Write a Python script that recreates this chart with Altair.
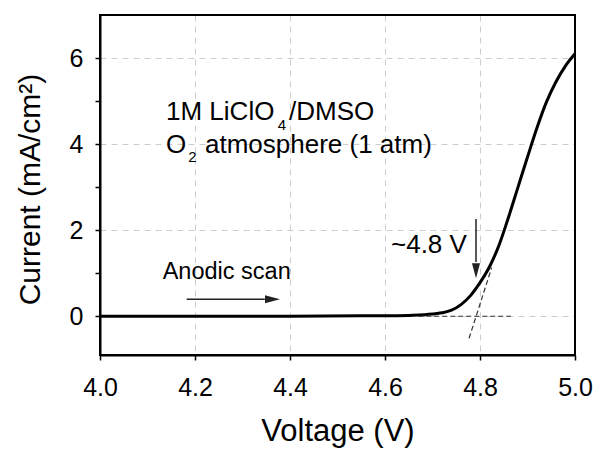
import altair as alt
import pandas as pd

# ---- data ----
voltage = [4.0, 4.2, 4.4, 4.55, 4.6, 4.65, 4.70, 4.72, 4.74, 4.76, 4.78, 4.80,
           4.82, 4.84, 4.86, 4.88, 4.90, 4.92, 4.94, 4.96, 4.98, 5.0]
current = [0.0, 0.0, 0.0, 0.01, 0.01, 0.02, 0.05, 0.08, 0.14, 0.27, 0.48, 0.78,
           1.15, 1.65, 2.3, 3.0, 3.7, 4.38, 4.98, 5.45, 5.82, 6.1]

x_ticks = [4.0, 4.2, 4.4, 4.6, 4.8, 5.0]
y_ticks = [0, 1, 2, 3, 4, 5, 6]
x_domain = [4.0, 5.0]
y_domain = [-0.9, 7.0]

# annotation pieces (subscripts as separate smaller pieces)
note_text = ["1M LiClO", "4", "/DMSO", "O", "2", "atmosphere (1 atm)", "~4.8 V", "Anodic scan"]
note_x = [4.139, 4.374, 4.398, 4.139, 4.186, 4.221, 4.6126, 4.132]
note_y = [4.56, 4.32, 4.56, 3.79, 3.59, 3.79, 1.47, 0.859]
note_size = [26, 15, 26, 26, 15, 26, 26, 23.5]

# arrows: start, head base, tip
arrow_x0 = [4.1825, 4.7916]
arrow_y0 = [0.394, 2.26]
arrow_xb = [4.347, 4.7916]
arrow_yb = [0.394, 1.26]
arrow_x1 = [4.379, 4.7916]
arrow_y1 = [0.394, 0.883]
arrow_angle = [0, 90]

# dashed onset construction lines
guide_x0 = [4.67, 4.777]
guide_y0 = [0.0, -0.51]
guide_x1 = [4.865, 4.8246]
guide_y1 = [0.0, 1.13]

FONT = "Liberation Sans"

curve_df = pd.DataFrame({"v": voltage, "i": current})
note_df = pd.DataFrame({"x": note_x, "y": note_y, "t": note_text, "s": note_size})
arrow_df = pd.DataFrame({"x0": arrow_x0, "y0": arrow_y0, "xb": arrow_xb, "yb": arrow_yb,
                         "x1": arrow_x1, "y1": arrow_y1, "a": arrow_angle})
guide_df = pd.DataFrame({"x0": guide_x0, "y0": guide_y0, "x1": guide_x1, "y1": guide_y1})
# top and right frame lines of the plot box
frame_df = pd.DataFrame({
    "x0": [x_domain[0], x_domain[1]], "y0": [y_domain[1], y_domain[0]],
    "x1": [x_domain[1], x_domain[1]], "y1": [y_domain[1], y_domain[1]],
})

xs = alt.Scale(domain=x_domain, nice=False, zero=False)
ys = alt.Scale(domain=y_domain, nice=False, zero=False)

curve = alt.Chart(curve_df).mark_line(color="black", strokeWidth=3, interpolate="monotone").encode(
    x=alt.X("v:Q", scale=xs, axis=alt.Axis(
        title="Voltage (V)", values=x_ticks, format=".1f", labelPadding=15, labelFlush=False,
        tickSize=5, titleFontSize=31, titleBaseline="alphabetic", titleY=85)),
    y=alt.Y("i:Q", scale=ys, axis=alt.Axis(
        title="Current (mA/cm²)", values=y_ticks, labelPadding=12, labelFlush=False, tickSize=5,
        labelExpr="datum.value % 2 === 0 ? datum.label : ''",
        gridOpacity={"condition": {"test": "datum.value % 2 === 0", "value": 1}, "value": 0},
        titleFontSize=30, titleBaseline="alphabetic", titleX=-61, titleY=174)),
)

frame = alt.Chart(frame_df).mark_rule(color="black", strokeWidth=2).encode(
    x=alt.X("x0:Q", scale=xs), y=alt.Y("y0:Q", scale=ys),
    x2="x1:Q", y2="y1:Q",
)

guides = alt.Chart(guide_df).mark_rule(color="#333333", strokeWidth=1.2, strokeDash=[5, 3]).encode(
    x=alt.X("x0:Q", scale=xs), y=alt.Y("y0:Q", scale=ys),
    x2="x1:Q", y2="y1:Q",
)

shafts = alt.Chart(arrow_df).mark_rule(color="#222222", strokeWidth=1.5).encode(
    x=alt.X("x0:Q", scale=xs), y=alt.Y("y0:Q", scale=ys),
    x2="xb:Q", y2="yb:Q",
)

heads = alt.Chart(arrow_df).mark_point(
    shape="M0,0 L-1,-0.27 L-1,0.27 Z", size=900, filled=True, color="#222222", opacity=1, strokeWidth=0
).encode(
    x=alt.X("x1:Q", scale=xs), y=alt.Y("y1:Q", scale=ys),
    angle=alt.Angle("a:Q", scale=None),
)

notes = alt.Chart(note_df).mark_text(align="left", baseline="alphabetic", font=FONT, color="black").encode(
    x=alt.X("x:Q", scale=xs), y=alt.Y("y:Q", scale=ys),
    text="t:N", size=alt.Size("s:Q", scale=None),
)

chart = alt.layer(curve, frame, guides, shafts, heads, notes).properties(
    width=475, height=340,
    autosize=alt.AutoSizeParams(type="none"),
    padding={"left": 100, "top": 15, "right": 23, "bottom": 95},
).configure_view(
    stroke="black", strokeWidth=2
).configure_axis(
    labelFont=FONT, titleFont=FONT, labelFontSize=25, labelColor="black",
    titleColor="black", titleFontWeight="normal",
    domainColor="black", domainWidth=2, tickColor="black", tickWidth=1.5, tickSize=5,
    gridColor="#cccccc", gridDash=[6, 5], gridWidth=1,
)

chart.save("out.html", embed_options={"renderer": "svg", "actions": False})
